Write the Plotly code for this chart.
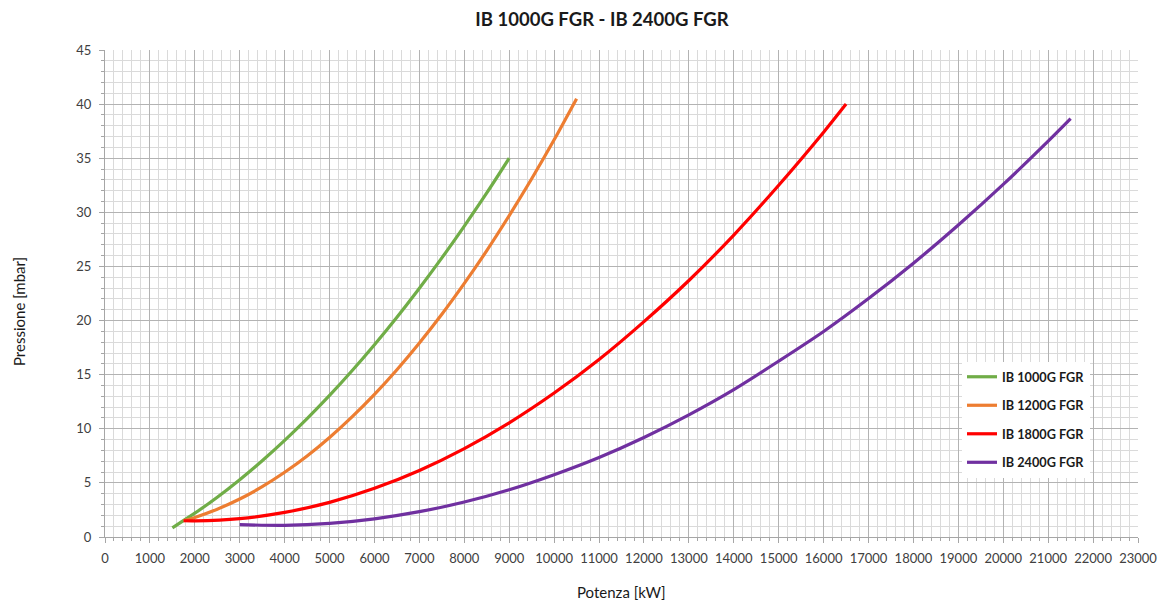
import plotly.graph_objects as go

# ---- data ----
green_x = [1500, 2000, 2500, 3000, 3500, 4000, 4500, 5000, 5500, 6000, 6500, 7000, 7500, 8000, 8500, 9000]
green_y = [0.85, 2.2, 3.68, 5.3, 7.05, 8.93, 10.94, 13.08, 15.36, 17.77, 20.31, 22.99, 25.79, 28.73, 31.79, 35.0]

orange_x = [1750, 2000, 2500, 3000, 3500, 4000, 4500, 5000, 5500, 6000, 6500, 7000, 7500, 8000, 8500, 9000, 9500, 10000, 10500]
orange_y = [1.5, 1.81, 2.57, 3.51, 4.65, 5.98, 7.49, 9.2, 11.1, 13.18, 15.46, 17.93, 20.58, 23.43, 26.46, 29.7, 33.1, 36.7, 40.5]

red_x = [1750, 2000, 3000, 4000, 5000, 6000, 7000, 8000, 9000, 10000, 11000, 12000, 13000, 14000, 15000, 16000, 16500]
red_y = [1.5, 1.49, 1.7, 2.27, 3.2, 4.5, 6.15, 8.17, 10.55, 13.3, 16.4, 19.9, 23.7, 27.9, 32.5, 37.4, 40.0]

purple_x = [3000, 4000, 5000, 6000, 7000, 8000, 9000, 10000, 11000, 12000, 13000, 14000, 15000, 16000, 17000, 18000, 19000, 20000, 21000, 21500]
purple_y = [1.14, 1.08, 1.26, 1.68, 2.34, 3.24, 4.37, 5.76, 7.35, 9.2, 11.29, 13.62, 16.25, 18.99, 22.03, 25.3, 28.83, 32.58, 36.58, 38.66]

series_names = ["IB 1000G FGR", "IB 1200G FGR", "IB 1800G FGR", "IB 2400G FGR"]
series_colors = ["#70AD47", "#ED7D31", "#FF0000", "#7030A0"]

x_ticks = list(range(0, 23001, 1000))
y_ticks = list(range(0, 46, 5))

title_text = "IB 1000G FGR - IB 2400G FGR"
x_title = "Potenza [kW]"
y_title = "Pressione [mbar]"

FONT = "Lato, Open Sans, sans-serif"

W, H = 1163, 603
plot_l, plot_r, plot_t, plot_b = 105, 1138, 50, 537
pw, ph = plot_r - plot_l, plot_b - plot_t

def px_to_paper_x(px):
    return (px - plot_l) / pw

def px_to_paper_y(py):
    return (plot_b - py) / ph

fig = go.Figure()
for i, (xs, ys) in enumerate([(green_x, green_y), (orange_x, orange_y), (red_x, red_y), (purple_x, purple_y)]):
    fig.add_trace(go.Scatter(
        x=xs, y=ys, mode="lines", name=series_names[i],
        line=dict(color=series_colors[i], width=3.2, shape="spline", smoothing=0.8),
        legendgroup=f"g{i}",
    ))

major_grid = "#b3b3b3"
minor_grid = "#dadada"
axis_col = "#a6a6a6"

fig.update_layout(
    width=W, height=H,
    paper_bgcolor="white", plot_bgcolor="white",
    margin=dict(l=plot_l, r=W - plot_r, t=plot_t, b=H - plot_b, autoexpand=False),
    title=dict(text="<b>" + title_text + "</b>", x=602 / W, xref="container", xanchor="center",
               y=1 - 20 / H, yref="container", yanchor="middle",
               font=dict(family=FONT, size=18.5, color="#1a1a1a")),
    font=dict(family=FONT, size=13, color="#404040"),
    showlegend=True,
    legend=dict(x=px_to_paper_x(962), y=px_to_paper_y(362), xanchor="left", yanchor="top",
                bgcolor="white", borderwidth=0,
                font=dict(family=FONT, size=12.7, color="#1a1a1a", weight="bold"),
                tracegroupgap=9, itemwidth=30, traceorder="grouped"),
    annotations=[
        dict(text=x_title, x=0.5, xref="paper", y=px_to_paper_y(592), yref="paper", showarrow=False,
             font=dict(family=FONT, size=15, color="#1a1a1a"), xanchor="center", yanchor="middle"),
        dict(text=y_title, x=px_to_paper_x(19), xref="paper", y=px_to_paper_y(312), yref="paper",
             showarrow=False, textangle=-90,
             font=dict(family=FONT, size=15, color="#1a1a1a"), xanchor="center", yanchor="middle"),
    ],
)

fig.update_xaxes(
    range=[0, 23000], tickmode="array", tickvals=x_ticks, ticktext=[str(v) for v in x_ticks],
    showgrid=True, gridcolor=major_grid, gridwidth=1,
    showline=True, linecolor=axis_col, linewidth=1,
    ticks="outside", ticklen=5, tickcolor=axis_col,
    tickfont=dict(family=FONT, size=13, color="#404040"),
    ticklabelstandoff=4,
    minor=dict(dtick=200, showgrid=True, gridcolor=minor_grid, gridwidth=1,
               ticks="outside", ticklen=3, tickcolor=axis_col),
    zeroline=False, automargin=False,
)
fig.update_yaxes(
    range=[0, 45], tickmode="array", tickvals=y_ticks, ticktext=[str(v) for v in y_ticks],
    showgrid=True, gridcolor=major_grid, gridwidth=1,
    showline=True, linecolor=axis_col, linewidth=1,
    ticks="outside", ticklen=5, tickcolor=axis_col,
    tickfont=dict(family=FONT, size=13, color="#404040"),
    ticklabelstandoff=5,
    minor=dict(dtick=1, showgrid=True, gridcolor=minor_grid, gridwidth=1,
               ticks="outside", ticklen=3, tickcolor=axis_col),
    zeroline=False, automargin=False,
)

fig.write_html("out.html", config={"displayModeBar": False},
               post_script="document.body.style.margin='0';document.body.style.overflow='hidden';")
